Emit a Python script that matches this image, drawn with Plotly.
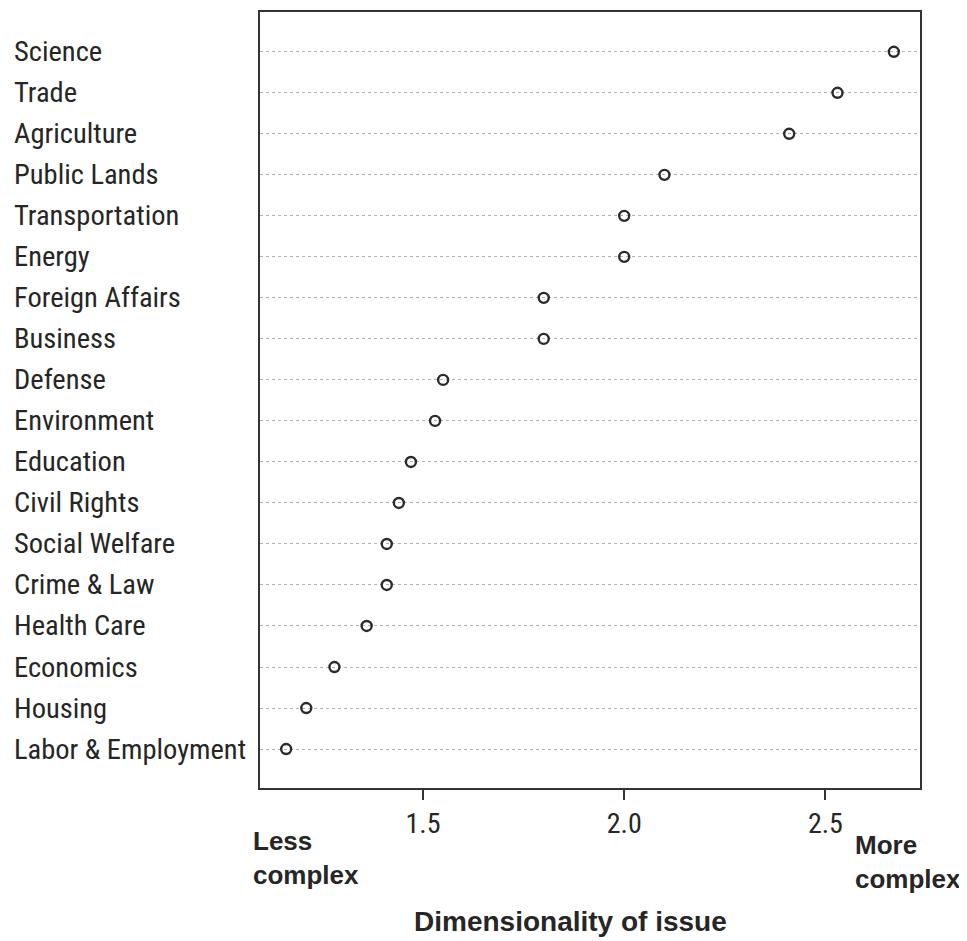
import plotly.graph_objects as go

categories = ["Science", "Trade", "Agriculture", "Public Lands", "Transportation", "Energy",
              "Foreign Affairs", "Business", "Defense", "Environment", "Education", "Civil Rights",
              "Social Welfare", "Crime & Law", "Health Care", "Economics", "Housing",
              "Labor & Employment"]
values = [2.67, 2.53, 2.41, 2.10, 2.00, 2.00, 1.80, 1.80, 1.55, 1.53, 1.47, 1.44, 1.41, 1.41,
          1.36, 1.28, 1.21, 1.16]
x_ticks = [1.5, 2.0, 2.5]
x_ticklabels = ["1.5", "2.0", "2.5"]

W, H = 967, 941
# page is drawn with an 8px body offset; margins compensate
L, R, T, B = 252, 55, 2, 161
plot_w = W - L - R
plot_h = H - T - B
X0, Y1 = L + 8, H - B + 8  # screen coords of plot left / bottom


def px(x):
    return (x - X0) / plot_w


def py(y):
    return (Y1 - y) / plot_h


label_font = "Roboto Condensed, Noto Sans Condensed, DejaVu Sans Condensed, Liberation Sans, Arial, sans-serif"
bold_font = "Liberation Sans, Arial, sans-serif"
txt = "#262626"

fig = go.Figure()
fig.add_trace(go.Scatter(
    x=values, y=categories, mode="markers",
    marker=dict(symbol="circle-open", size=10, color="#2b2b2b", line=dict(width=2.4, color="#2b2b2b")),
    showlegend=False, hoverinfo="x+y",
))

annotations = []
for c in categories:
    annotations.append(dict(
        x=px(12), xref="paper", y=c, yref="y", text=c, showarrow=False,
        xanchor="left", yanchor="middle", font=dict(family=label_font, size=28.5, color=txt),
    ))
annotations.append(dict(x=px(251), xref="paper", y=py(858), yref="paper",
                        text="<b>Less<br>complex</b>", showarrow=False, align="left",
                        xanchor="left", yanchor="middle", font=dict(family=bold_font, size=26, color=txt)))
annotations.append(dict(x=px(853), xref="paper", y=py(862), yref="paper",
                        text="<b>More<br>complex</b>", showarrow=False, align="left",
                        xanchor="left", yanchor="middle", font=dict(family=bold_font, size=26, color=txt)))
annotations.append(dict(x=px(570), xref="paper", y=py(922), yref="paper",
                        text="<b>Dimensionality of issue</b>", showarrow=False,
                        xanchor="center", yanchor="middle", font=dict(family=bold_font, size=28, color=txt)))

fig.update_layout(
    width=W, height=H,
    margin=dict(l=L, r=R, t=T, b=B),
    paper_bgcolor="white", plot_bgcolor="white",
    annotations=annotations,
    xaxis=dict(
        range=[1.095, 2.735], tickvals=x_ticks, ticktext=x_ticklabels,
        ticks="outside", ticklen=10, tickwidth=1.5, tickcolor="#333333",
        showline=True, linecolor="#333333", linewidth=1.5, mirror=True,
        showgrid=False, zeroline=False,
        tickfont=dict(family=label_font, size=28, color=txt),
    ),
    yaxis=dict(
        type="category", categoryorder="array", categoryarray=categories[::-1],
        range=[-0.95, 17.97], showticklabels=False, ticks="",
        showline=True, linecolor="#333333", linewidth=1.5, mirror=True,
        showgrid=True, gridcolor="#b0b0b0", gridwidth=1.3, griddash="dot",
        zeroline=False,
    ),
)

fig.write_html("out.html")
